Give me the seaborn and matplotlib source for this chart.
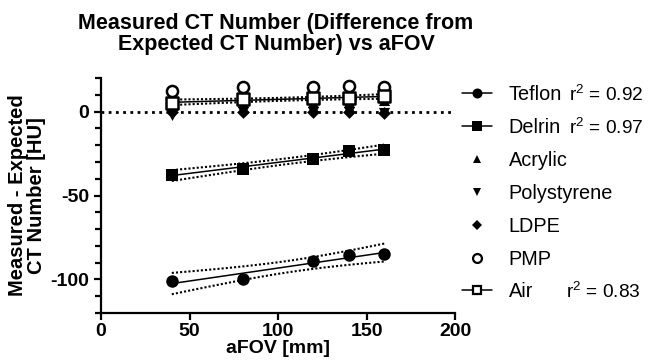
import numpy as np
import pandas as pd
import matplotlib
matplotlib.use("Agg")
import matplotlib.pyplot as plt
import seaborn as sns
from matplotlib.lines import Line2D
from matplotlib.ticker import MultipleLocator

# Dados
afov = [40, 80, 120, 140, 160]
teflon = [-101, -99.5, -89, -85.5, -85]
delrin = [-37.5, -34, -28, -23.5, -23]
acrylic = [4, 6, 6, 6, 7]
polystyrene = [-2, 0, 0, 0, -1]
ldpe = [0, 0, 0, 0, -1]
pmp = [12.5, 14.5, 14.5, 15, 14.5]
air = [5, 7.5, 8, 8, 9]

materials = ["Teflon", "Delrin", "Acrylic", "Polystyrene", "LDPE", "PMP", "Air"]
series = [teflon, delrin, acrylic, polystyrene, ldpe, pmp, air]
r2_labels = {"Teflon": "0.92", "Delrin": "0.97", "Air": "0.83"}

markers = {"Teflon": "o", "Delrin": "s", "Acrylic": "^", "Polystyrene": "v",
           "LDPE": "D", "PMP": "o", "Air": "s"}
sizes = {"Teflon": 9, "Delrin": 8.5, "Acrylic": 8, "Polystyrene": 8,
         "LDPE": 6.5, "PMP": 8, "Air": 8}
open_markers = {"PMP", "Air"}

dados = pd.DataFrame({
    "aFOV": np.tile(afov, len(materials)),
    "diff": np.concatenate(series),
    "material": np.repeat(materials, len(afov)),
})

sns.set_style("ticks")
plt.rcParams["font.family"] = ["Liberation Sans", "DejaVu Sans"]
plt.rcParams["axes.unicode_minus"] = False
plt.rcParams["mathtext.fontset"] = "custom"
plt.rcParams["mathtext.rm"] = "Liberation Sans"
for chave in ("text.color", "axes.labelcolor", "xtick.color", "ytick.color", "axes.edgecolor"):
    plt.rcParams[chave] = "black"

fig = plt.figure(figsize=(6.49, 3.64), dpi=100)
ax = fig.add_axes([101 / 649, 1 - 313 / 364, 354 / 649, 235 / 364])

# Linha de referência em zero
ax.axhline(0, color="black", lw=2, ls=(0, (1, 1.6)), zorder=1)

# Regressões lineares com banda de confiança de 95%
t_crit = 3.182  # t(0.975, df=3)
x = np.array(afov, dtype=float)
xs = np.linspace(x.min(), x.max(), 50)
for nome in r2_labels:
    y = np.array(dados.loc[dados["material"] == nome, "diff"])
    b, a = np.polyfit(x, y, 1)
    resid = y - (a + b * x)
    s = np.sqrt(np.sum(resid ** 2) / (len(x) - 2))
    sxx = np.sum((x - x.mean()) ** 2)
    half = t_crit * s * np.sqrt(1 / len(x) + (xs - x.mean()) ** 2 / sxx)
    fit = a + b * xs
    ax.plot(xs, fit, color="black", lw=1.1, zorder=2)
    ax.plot(xs, fit + half, color="black", lw=1.5, ls=(0, (1, 1)), zorder=2)
    ax.plot(xs, fit - half, color="black", lw=1.5, ls=(0, (1, 1)), zorder=2)

# Pontos
for nome in materials:
    sub = dados[dados["material"] == nome]
    aberto = nome in open_markers
    sns.scatterplot(data=sub, x="aFOV", y="diff", ax=ax, marker=markers[nome],
                    s=sizes[nome] ** 2,
                    color="white" if aberto else "black",
                    edgecolor="black", linewidth=1.8 if aberto else 0,
                    zorder=3, legend=False)

ax.set_xlim(0, 200)
ax.set_ylim(-120, 20)
ax.xaxis.set_major_locator(MultipleLocator(50))
ax.yaxis.set_major_locator(MultipleLocator(50))
ax.yaxis.set_minor_locator(MultipleLocator(10))
sns.despine(ax=ax)
for sp in ("left", "bottom"):
    ax.spines[sp].set_linewidth(1.6)
ax.tick_params(which="major", length=5, width=1.6, labelsize=14, colors="black")
ax.tick_params(axis="x", pad=2)
ax.tick_params(which="minor", length=4, width=1.6)
for lbl in ax.get_xticklabels() + ax.get_yticklabels():
    lbl.set_fontweight("bold")

ax.set_xlabel("aFOV [mm]", fontsize=14, fontweight="bold", labelpad=0)
ax.set_ylabel("Measured - Expected\nCT Number [HU]", fontsize=14.5,
              fontweight="bold", labelpad=3, linespacing=1.0)
fig.text(276 / 649, 1 - 13 / 364, "Measured CT Number (Difference from\nExpected CT Number) vs aFOV",
         ha="center", va="top", fontsize=15.5, fontweight="bold", linespacing=1.0)

# Legenda
handles = []
for nome in materials:
    aberto = nome in open_markers
    handles.append(Line2D([], [], color="black", lw=1.1 if nome in r2_labels else 0,
                          marker=markers[nome], markersize=sizes[nome] * 0.8,
                          markerfacecolor="white" if aberto else "black",
                          markeredgecolor="black", markeredgewidth=1.6 if aberto else 0))
leg = fig.legend(handles, materials, loc="upper left",
                 bbox_to_anchor=(462 / 649, 1 - 85 / 364), frameon=False,
                 fontsize=14.3, labelspacing=0.7, handlelength=1.5,
                 handletextpad=0.85, borderaxespad=0, borderpad=0)

fig.canvas.draw()
for txt in leg.get_texts():
    nome = txt.get_text()
    if nome in r2_labels:
        bb = txt.get_window_extent()
        yc = (bb.y0 + bb.y1) / 2 / fig.bbox.height
        xpos = 569 / 649 if nome != "Air" else 566 / 649
        fig.text(xpos, yc, "r$^2$ = " + r2_labels[nome], fontsize=13.8,
                 va="center", ha="left")

fig.savefig("out.png", dpi=100)
